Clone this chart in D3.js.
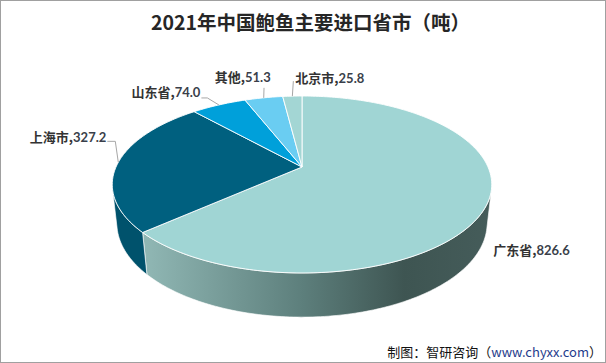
<!DOCTYPE html>
<html>
<head>
<meta charset="utf-8">
<script src="https://cdn.jsdelivr.net/npm/d3@7"></script>
<style>
  body { margin: 0; background: #fff; }
  svg { display: block; }
</style>
</head>
<body>
<svg width="606" height="363"></svg>
<script>
// data
var provinces = ["广东省", "上海市", "山东省", "其他", "北京市"];
var tons = [826.6, 327.2, 74.0, 51.3, 25.8];
var topColors = ["#a0d5d4", "#00607f", "#00a0da", "#6acdf2", "#a3d6d4"];

var svg = d3.select("svg");
var W = 606, H = 363;

// 3d projection of the pie (perspective, tilted)
var cx = 302, cy = 167;
var focal = 837, camDist = 4.5, thick = 0.236;
var tilt = 27.2 * Math.PI / 180;
var s = Math.sin(tilt), c = Math.cos(tilt);

function proj(a, h) {
  var u = Math.sin(a), v = -Math.cos(a);
  var dist = camDist - v * c + h * s;
  return [cx + focal * u / dist, cy + focal * (h * c + v * s) / dist];
}

function arcPts(a0, a1, h) {
  var n = Math.max(2, Math.ceil(Math.abs(a1 - a0) / (Math.PI / 180)));
  return d3.range(n + 1).map(function(i) { return proj(a0 + (a1 - a0) * i / n, h); });
}

var pie = d3.pie().sort(null).value(function(d) { return d; });
var arcs = pie(tons);

// border
svg.append("rect")
  .attr("x", 0.5).attr("y", 0.5)
  .attr("width", W - 1).attr("height", H - 1)
  .attr("fill", "#fff").attr("stroke", "#a0a0a0");

// gradient for the front side
var defs = svg.append("defs");
var grad = defs.append("linearGradient")
  .attr("id", "sideGrad")
  .attr("gradientUnits", "userSpaceOnUse")
  .attr("x1", 148).attr("y1", 0).attr("x2", 490).attr("y2", 0);
grad.append("stop").attr("offset", "0%").attr("stop-color", "#8fb6b3");
grad.append("stop").attr("offset", "45%").attr("stop-color", "#5d7f7c");
grad.append("stop").attr("offset", "75%").attr("stop-color", "#3e5552");
grad.append("stop").attr("offset", "100%").attr("stop-color", "#455c5a");

// visible side range
var visA = Math.acos(-1 / (camDist * c));
var visB = 2 * Math.PI - visA;

var line = d3.line();

var sides = svg.append("g");
arcs.forEach(function(d, i) {
  var a0 = Math.max(d.startAngle, visA), a1 = Math.min(d.endAngle, visB);
  if (a1 <= a0) return;
  var pts = arcPts(a0, a1, 0).concat(arcPts(a1, a0, thick));
  sides.append("path")
    .attr("d", line(pts) + "Z")
    .attr("fill", i === 0 ? "url(#sideGrad)" : d3.color(topColors[i]).darker(0.45))
    .attr("stroke", "#fff")
    .attr("stroke-opacity", 0.8)
    .attr("stroke-width", 0.8);
});

var tops = svg.append("g");
arcs.forEach(function(d, i) {
  var pts = [[cx, cy]].concat(arcPts(d.startAngle, d.endAngle, 0));
  tops.append("path")
    .attr("d", line(pts) + "Z")
    .attr("fill", topColors[i])
    .attr("stroke", "#fff")
    .attr("stroke-width", 0.9)
    .attr("stroke-linejoin", "round");
});

// labels: offsets from the edge point at the middle of each slice
var labelLayout = [
  { anchor: "start", dx: 6.5, dy: 50.7, leader: [] },
  { anchor: "end", dx: -12, dy: -20.5, leader: [[-3, -21], [-11, -21]] },
  { anchor: "end", dx: -18.5, dy: -7.5, leader: [[-11.5, -7], [-17.5, -7]] },
  { anchor: "middle", dx: -21, dy: -15.5, leader: [[0.3, -10]] },
  { anchor: "start", dx: 3, dy: -13.5, leader: [[1, -15]] }
];

var fmt = d3.format(".1f");
var labels = svg.append("g");
arcs.forEach(function(d, i) {
  var mid = (d.startAngle + d.endAngle) / 2;
  var p = proj(mid, 0);
  var L = labelLayout[i];
  if (L.leader.length) {
    var pts = [p].concat(L.leader.map(function(o) { return [p[0] + o[0], p[1] + o[1]]; }));
    labels.append("path")
      .attr("d", line(pts))
      .attr("fill", "none")
      .attr("stroke", "#a6a6a6")
      .attr("stroke-width", 1);
  }
  var t = labels.append("text")
    .attr("x", p[0] + L.dx)
    .attr("y", p[1] + L.dy)
    .attr("text-anchor", L.anchor)
    .attr("fill", "#333")
    .style("font-weight", "bold");
  t.append("tspan")
    .style("font-family", "'Noto Sans CJK SC', sans-serif")
    .style("font-size", "13px")
    .text(provinces[i] + ",");
  t.append("tspan")
    .style("font-family", "Lato, sans-serif")
    .style("font-size", "13px")
    .attr("fill", "#3a3f4a")
    .text(fmt(tons[i]));
});

// title
svg.append("text")
  .attr("x", 310.5).attr("y", 30)
  .attr("text-anchor", "middle")
  .style("font-family", "'Noto Sans CJK SC', sans-serif")
  .style("font-size", "19.5px")
  .style("font-weight", "bold")
  .attr("fill", "#262626")
  .text("2021年中国鲍鱼主要进口省市（吨）");

// source
var src = svg.append("text")
  .attr("x", 602).attr("y", 357)
  .attr("text-anchor", "end")
  .style("font-family", "'Noto Sans CJK SC', sans-serif")
  .style("font-size", "13px")
  .attr("fill", "#111");
src.append("tspan").text("制图：智研咨询（");
src.append("tspan").attr("fill", "#1f3c8c").text("www.chyxx.com");
src.append("tspan").text("）");
</script>
</body>
</html>
